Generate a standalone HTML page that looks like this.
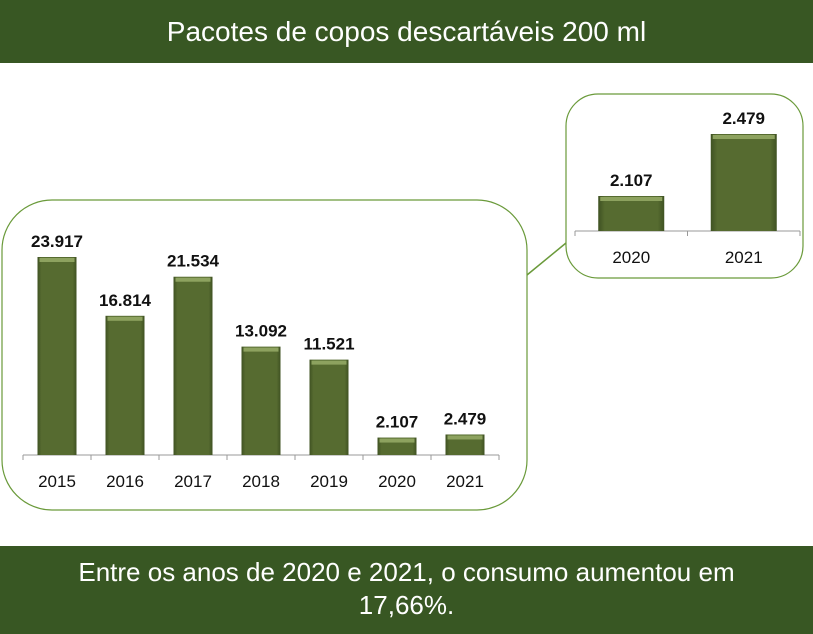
<!DOCTYPE html>
<html><head><meta charset="utf-8"><style>
body{margin:0;background:#fff;font-family:"Liberation Sans",sans-serif;}
#wrap{position:relative;width:813px;height:634px;overflow:hidden;}
.band{position:absolute;left:0;width:813px;background:#385723;color:#fff;text-align:center;}
</style></head><body>
<div id="wrap">
<div class="band" style="top:0;height:63px;line-height:63px;font-size:28px;">Pacotes de copos descartáveis 200 ml</div>
<svg id="chart" width="813" height="634" style="position:absolute;left:0;top:0">
<defs>
<linearGradient id="bg" x1="0" x2="1" y1="0" y2="0"><stop offset="0" stop-color="#3f5222"/><stop offset="0.1" stop-color="#566b30"/><stop offset="0.9" stop-color="#566b30"/><stop offset="1" stop-color="#3f5222"/></linearGradient>
</defs>
<rect x="2" y="200" width="525" height="310" rx="50" fill="#fff" stroke="#6a9a3a" stroke-width="1.2"/>
<rect x="566" y="94" width="237" height="184" rx="32" fill="#fff" stroke="#6a9a3a" stroke-width="1.2"/>
<line x1="527" y1="275" x2="566" y2="243" stroke="#6a9a3a" stroke-width="1.5"/>
<g id="main"></g><g id="inset"></g>
</svg>
<div class="band" style="top:546px;height:88px;font-size:26px;line-height:33px;padding-top:10px;box-sizing:border-box;">Entre os anos de 2020 e 2021, o consumo aumentou em<br>17,66%.</div>
</div>
<script>
const categories=["2015","2016","2017","2018","2019","2020","2021"];
const values=[23917,16814,21534,13092,11521,2107,2479];
const labels=["23.917","16.814","21.534","13.092","11.521","2.107","2.479"];
const insetCategories=["2020","2021"];
const insetValues=[2107,2479];
const insetLabels=["2.107","2.479"];
const NS="http://www.w3.org/2000/svg";
function mk(parent,tag,attrs,text){const e=document.createElementNS(NS,tag);for(const k in attrs)e.setAttribute(k,attrs[k]);if(text!==undefined)e.textContent=text;parent.appendChild(e);return e;}
function draw(g,cats,vals,labs,x0,x1,base,yScale,barW,nameP){
  const step=(x1-x0)/cats.length;
  const ax=mk(g,"line",{x1:x0,x2:x1,y1:base,y2:base,stroke:"#999","stroke-width":1});
  
  
  for(let i=0;i<=cats.length;i++){
    const t=mk(g,"line",{x1:x0+i*step,x2:x0+i*step,y1:base,y2:base+5,stroke:"#999"});
    
    
  }
  cats.forEach((c,i)=>{
    const cx=x0+(i+0.5)*step,top=yScale(vals[i]),h=base-top;
    const b=mk(g,"rect",{x:cx-barW/2,y:top,width:barW,height:h,fill:"url(#bg)"});
    
    
    const bv=mk(g,"rect",{x:cx-barW/2+2,y:top+1,width:barW-4,height:Math.min(4,h-1),fill:"#8da25f"});
    
    
    const vl=mk(g,"text",{x:cx,y:top-10,"text-anchor":"middle","font-size":"17","font-weight":"bold",fill:"#111"},labs[i]);
    
    
    const cl=mk(g,"text",{x:cx,y:base+32,"text-anchor":"middle","font-size":"17",fill:"#111"},c);
    
    
  });
}
const mainBase=455,mainK=198/23917;
draw(document.getElementById("main"),categories,values,labels,23,499,mainBase,v=>mainBase-v*mainK,39,"main-");
const inBase=231,inMin=1897,inK=62/372;
draw(document.getElementById("inset"),insetCategories,insetValues,insetLabels,575,800,inBase,v=>inBase-(v-inMin)*inK,66,"inset-");
</script>
</body></html>
